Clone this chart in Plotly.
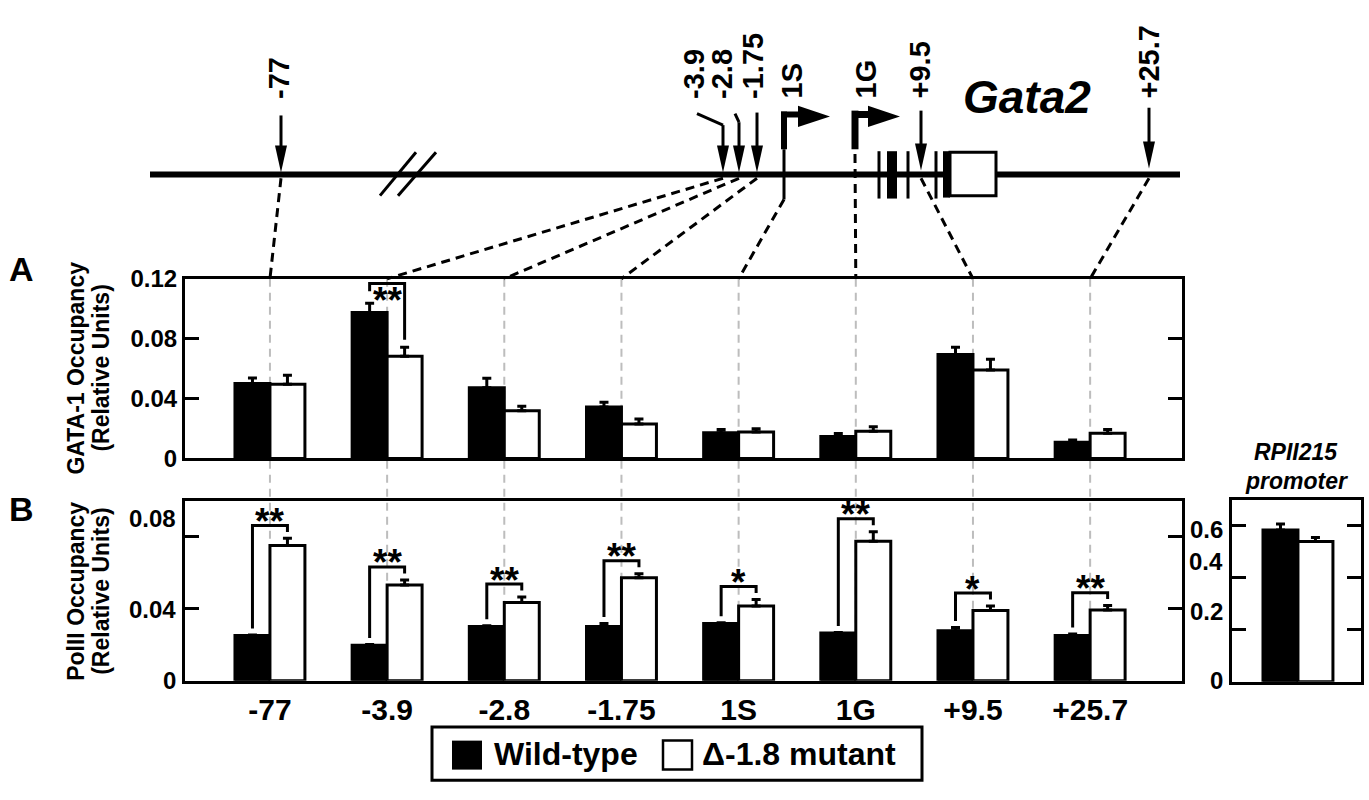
import plotly.graph_objects as go

W, H = 1369, 800
FONT = "Liberation Sans, Arial, Helvetica, sans-serif"

# ---------------- data ----------------
categories = ['-77', '-3.9', '-2.8', '-1.75', '1S', '1G', '+9.5', '+25.7']
series_names = ['Wild-type', 'Δ-1.8 mutant']

gata1_wt = [0.0500, 0.0974, 0.0473, 0.0344, 0.0172, 0.0146, 0.0695, 0.0108]
gata1_wt_err = [0.0038, 0.0063, 0.0062, 0.0032, 0.0022, 0.0020, 0.0047, 0.0015]
gata1_mut = [0.0495, 0.0682, 0.0318, 0.0230, 0.0176, 0.0181, 0.0591, 0.0168]
gata1_mut_err = [0.0060, 0.0060, 0.0030, 0.0034, 0.0022, 0.0030, 0.0071, 0.0026]
gata1_sig = ['', '**', '', '', '', '', '', '']

pol2_wt = [0.0251, 0.0197, 0.0301, 0.0301, 0.0319, 0.0265, 0.0278, 0.0251]
pol2_wt_err = [0.0003, 0.0004, 0.0005, 0.0018, 0.0003, 0.0003, 0.0018, 0.0009]
pol2_mut = [0.0753, 0.0532, 0.0435, 0.0573, 0.0416, 0.0776, 0.0391, 0.0394]
pol2_mut_err = [0.0039, 0.0029, 0.0031, 0.0022, 0.0036, 0.0053, 0.0025, 0.0024]
pol2_sig = ['**', '**', '**', '**', '*', '**', '*', '**']

rp_category = ['RPII215 promoter']
rp_wt = [0.584]
rp_wt_err = [0.024]
rp_mut = [0.540]
rp_mut_err = [0.016]

gata1_ticks = [0, 0.04, 0.08, 0.12]
gata1_ticklabels = ['0', '0.04', '0.08', '0.12']
pol2_ticks = [0, 0.04, 0.08]
pol2_ticklabels = ['0', '0.04', '0.08']
rp_ticks = [0, 0.2, 0.4, 0.6]
rp_ticklabels = ['0', '0.2', '0.4', '0.6']

# ---------------- helpers (pixel -> paper) ----------------
def px(x):
    return x / W


def py(y):
    return 1 - y / H


XR = [-0.725, 7.784]
PLOT_L, PLOT_R = 185, 1182


def gx(i):
    return PLOT_L + (i - XR[0]) / (XR[1] - XR[0]) * (PLOT_R - PLOT_L)


idx = list(range(len(categories)))
BW = 0.2985  # bar width in category units

fig = go.Figure()


def add_bars(xs, wt, wte, mut, mute, xa, ya):
    for vals, errs, fill, name in [(wt, wte, 'black', series_names[0]),
                                   (mut, mute, 'white', series_names[1])]:
        fig.add_trace(go.Bar(
            x=xs, y=vals, name=name, xaxis=xa, yaxis=ya,
            marker=dict(color=fill, line=dict(color='black', width=3)),
            error_y=dict(type='data', array=errs, arrayminus=[0] * len(errs),
                         symmetric=False, color='black', thickness=3, width=4.5),
            showlegend=False, hoverinfo='skip'))


add_bars(idx, gata1_wt, gata1_wt_err, gata1_mut, gata1_mut_err, 'x', 'y')
add_bars(idx, pol2_wt, pol2_wt_err, pol2_mut, pol2_mut_err, 'x2', 'y2')
add_bars([0], rp_wt, rp_wt_err, rp_mut, rp_mut_err, 'x3', 'y3')

annotations = []

# ---------------- significance brackets ----------------
# panel B: bracket above bars
bx, by = [], []
for i, s in enumerate(pol2_sig):
    if not s:
        continue
    wtop = pol2_wt[i] + pol2_wt_err[i]
    mtop = pol2_mut[i] + pol2_mut_err[i]
    top = max(wtop, mtop) + 0.0072
    bx += [i - BW / 2, i - BW / 2, i + BW / 2, i + BW / 2, None]
    by += [wtop + 0.0036, top, top, mtop + 0.0036, None]
    annotations.append(dict(x=i, y=top, xref='x2', yref='y2', text=s, showarrow=False,
                            yanchor='middle', yshift=4,
                            font=dict(size=37, family=FONT, weight='bold', color='black')))
fig.add_trace(go.Scatter(x=bx, y=by, xaxis='x2', yaxis='y2', mode='lines',
                         line=dict(color='black', width=3), showlegend=False, hoverinfo='skip'))

# panel A: bracket near the top, stars below it
ax_, ay_ = [], []
for i, s in enumerate(gata1_sig):
    if not s:
        continue
    wtop = gata1_wt[i] + gata1_wt_err[i]
    mtop = gata1_mut[i] + gata1_mut_err[i]
    top = max(wtop, mtop) + 0.0131
    ax_ += [i - BW / 2, i - BW / 2, i + BW / 2, i + BW / 2, None]
    ay_ += [wtop + 0.0079, top, top, mtop + 0.0051, None]
    annotations.append(dict(x=i, y=top, xref='x', yref='y', text=s, showarrow=False,
                            yanchor='middle', yshift=-17,
                            font=dict(size=37, family=FONT, weight='bold', color='black')))
fig.add_trace(go.Scatter(x=ax_, y=ay_, xaxis='x', yaxis='y', mode='lines',
                         line=dict(color='black', width=3), showlegend=False, hoverinfo='skip'))

# ---------------- shapes: gene diagram, connectors ----------------
shapes = []


def line(x0, y0, x1, y1, w=3, dash=None, color='black', layer='above'):
    d = dict(type='line', xref='paper', yref='paper', x0=px(x0), y0=py(y0),
             x1=px(x1), y1=py(y1), line=dict(color=color, width=w), layer=layer)
    if dash:
        d['line']['dash'] = dash
    shapes.append(d)


def poly(pts, fill='black', lw=0):
    path = 'M ' + ' L '.join(f'{px(a):.5f},{py(b):.5f}' for a, b in pts) + ' Z'
    shapes.append(dict(type='path', xref='paper', yref='paper', path=path,
                       fillcolor=fill, line=dict(color='black', width=lw)))


def rect(x0, y0, x1, y1, fill='black', lw=0):
    shapes.append(dict(type='rect', xref='paper', yref='paper', x0=px(x0), y0=py(y0),
                       x1=px(x1), y1=py(y1), fillcolor=fill,
                       line=dict(color='black', width=lw)))


# gray guide lines through the panels
for i in idx:
    line(gx(i), 274, gx(i), 690, w=2, dash='8px,6px', color='#bdbdbd', layer='below')

# main genomic line
line(150, 166, 1180, 166, w=6)
# break marks
line(380, 188, 416, 143, w=3)
line(398, 188, 436, 143, w=3)

# arrows for sites (polyline, tip)
arrows = [
    ([(281, 105), (281, 138)], (281, 164)),
    ([(697, 103), (723, 115), (723, 138)], (723, 164)),
    ([(735, 103), (739, 112), (739, 138)], (739, 164)),
    ([(757, 102), (757, 138)], (757, 164)),
    ([(921, 100), (921, 136)], (921, 162)),
    ([(1149, 97), (1149, 134)], (1149, 160)),
]
for pts, (tx, ty) in arrows:
    for (a, b), (c, d) in zip(pts[:-1], pts[1:]):
        line(a, b, c, d, w=3)
    poly([(tx - 6, ty - 28), (tx + 6, ty - 28), (tx, ty)])

# promoters 1S and 1G
line(784, 101, 784, 140, w=6)
line(784, 140, 784, 192, w=3)
line(781, 104, 800, 104, w=6)
poly([(798, 95), (830, 106), (798, 117)])
line(855, 100, 855, 140, w=7)
line(852, 104, 870, 104, w=7)
poly([(868, 95), (900, 106), (868, 117)])

# exons
line(879, 142, 879, 191, w=3)
rect(887, 142, 897, 191)
line(908, 142, 908, 191, w=3)
line(936, 142, 936, 191, w=3)
rect(943, 142, 950, 190)
rect(950, 143, 996, 188, fill='white', lw=3)

# dashed connectors to panel A (site -> group centre)
site_points = [(281, 170), (723, 170), (739, 170), (757, 170), (784, 192),
               (855, 145), (921, 170), (1149, 170)]
for i, (sx, sy) in enumerate(site_points):
    line(sx, sy, gx(i), 274, w=3, dash='9px,6px')

# legend box
rect(432, 738, 922, 793, fill='white', lw=3)
rect(452, 752, 482, 782)
rect(663, 752, 692, 782, fill='white', lw=2.5)

# ---------------- text annotations ----------------
def txt(x, y, s, size, anchor='center', angle=0, italic=False, yanchor='middle'):
    annotations.append(dict(x=px(x), y=py(y), xref='paper', yref='paper', text=s,
                            showarrow=False, xanchor=anchor, yanchor=yanchor, textangle=angle,
                            font=dict(size=size, family=FONT, weight='bold', color='black',
                                      style='italic' if italic else 'normal')))


site_label_x = [279, 694, 722, 753, 792, 866, 920, 1149]
for lab, x in zip(categories, site_label_x):
    txt(x, 90, lab, 29, angle=-90, yanchor='bottom')

txt(1027, 86, 'Gata2', 46, italic=True)
txt(21, 264, 'A', 34)
txt(21, 512, 'B', 34)
txt(76, 367, 'GATA-1 Occupancy', 23, angle=-90)
txt(101, 367, '(Relative Units)', 23, angle=-90)
txt(76, 598, 'PolII Occupancy', 23, angle=-90)
txt(101, 598, '(Relative Units)', 23, angle=-90)
txt(1296, 453, 'RPII215', 23, italic=True)
txt(1296, 483, 'promoter', 23, italic=True)
txt(492, 766, series_names[0], 32, anchor='left')
txt(700, 766, series_names[1], 32, anchor='left')

# panel B left tick labels (as drawn in the reference, slightly offset)
for v, lab, yv in zip(pol2_ticks, pol2_ticklabels, [0.0, 0.0398, 0.0903]):
    annotations.append(dict(x=px(178), y=yv, xref='paper', yref='y2', text=lab,
                            showarrow=False, xanchor='right', yanchor='middle',
                            font=dict(size=24, family=FONT, weight='bold', color='black')))
# labels between panel B and the RPII215 panel
for lab, yv in zip(['0', '0.2', '0.4', '0.6'], [0.004, 0.272, 0.462, 0.588]):
    annotations.append(dict(x=px(1225), y=yv, xref='paper', yref='y3', text=lab,
                            showarrow=False, xanchor='right', yanchor='middle',
                            font=dict(size=24, family=FONT, weight='bold', color='black')))

# ---------------- axes ----------------
frame = dict(showline=True, linewidth=3, linecolor='black', mirror=True,
             showgrid=False, zeroline=False)
yframe = dict(showline=True, linewidth=3, linecolor='black', mirror='ticks',
              showgrid=False, zeroline=False, ticks='inside', ticklen=14,
              tickwidth=3, tickcolor='black')

fig.update_layout(
    width=W, height=H, margin=dict(l=0, r=0, t=0, b=0), autosize=False,
    paper_bgcolor='white', plot_bgcolor='rgba(0,0,0,0)',
    barmode='group', bargap=0.403, bargroupgap=0, showlegend=False,
    font=dict(family=FONT, color='black'),
    xaxis=dict(domain=[px(PLOT_L), px(PLOT_R)], range=XR, anchor='y',
               showticklabels=False, ticks='', **frame),
    yaxis=dict(domain=[py(460), py(274)], range=[0, 0.12], anchor='x',
               tickvals=gata1_ticks, ticktext=gata1_ticklabels,
               tickfont=dict(size=24, family=FONT, weight='bold'), **yframe),
    xaxis2=dict(domain=[px(PLOT_L), px(PLOT_R)], range=XR, anchor='y2',
                tickvals=idx, ticktext=categories, ticks='',
                tickfont=dict(size=30, family=FONT, weight='bold'), **frame),
    yaxis2=dict(domain=[py(690), py(504)], range=[0, 0.1], anchor='x2',
                tickvals=pol2_ticks, showticklabels=False, **yframe),
    xaxis3=dict(domain=[px(1232), px(1361)], range=[-0.563, 0.538], anchor='y3',
                showticklabels=False, ticks='', **frame),
    yaxis3=dict(domain=[py(691), py(503)], range=[0, 0.7], anchor='x3',
                tickvals=rp_ticks, showticklabels=False, **yframe),
    shapes=shapes, annotations=annotations,
)

fig.write_html("out.html", config={'displayModeBar': False},
               post_script="document.body.style.margin='0';document.body.style.overflow='hidden';")
